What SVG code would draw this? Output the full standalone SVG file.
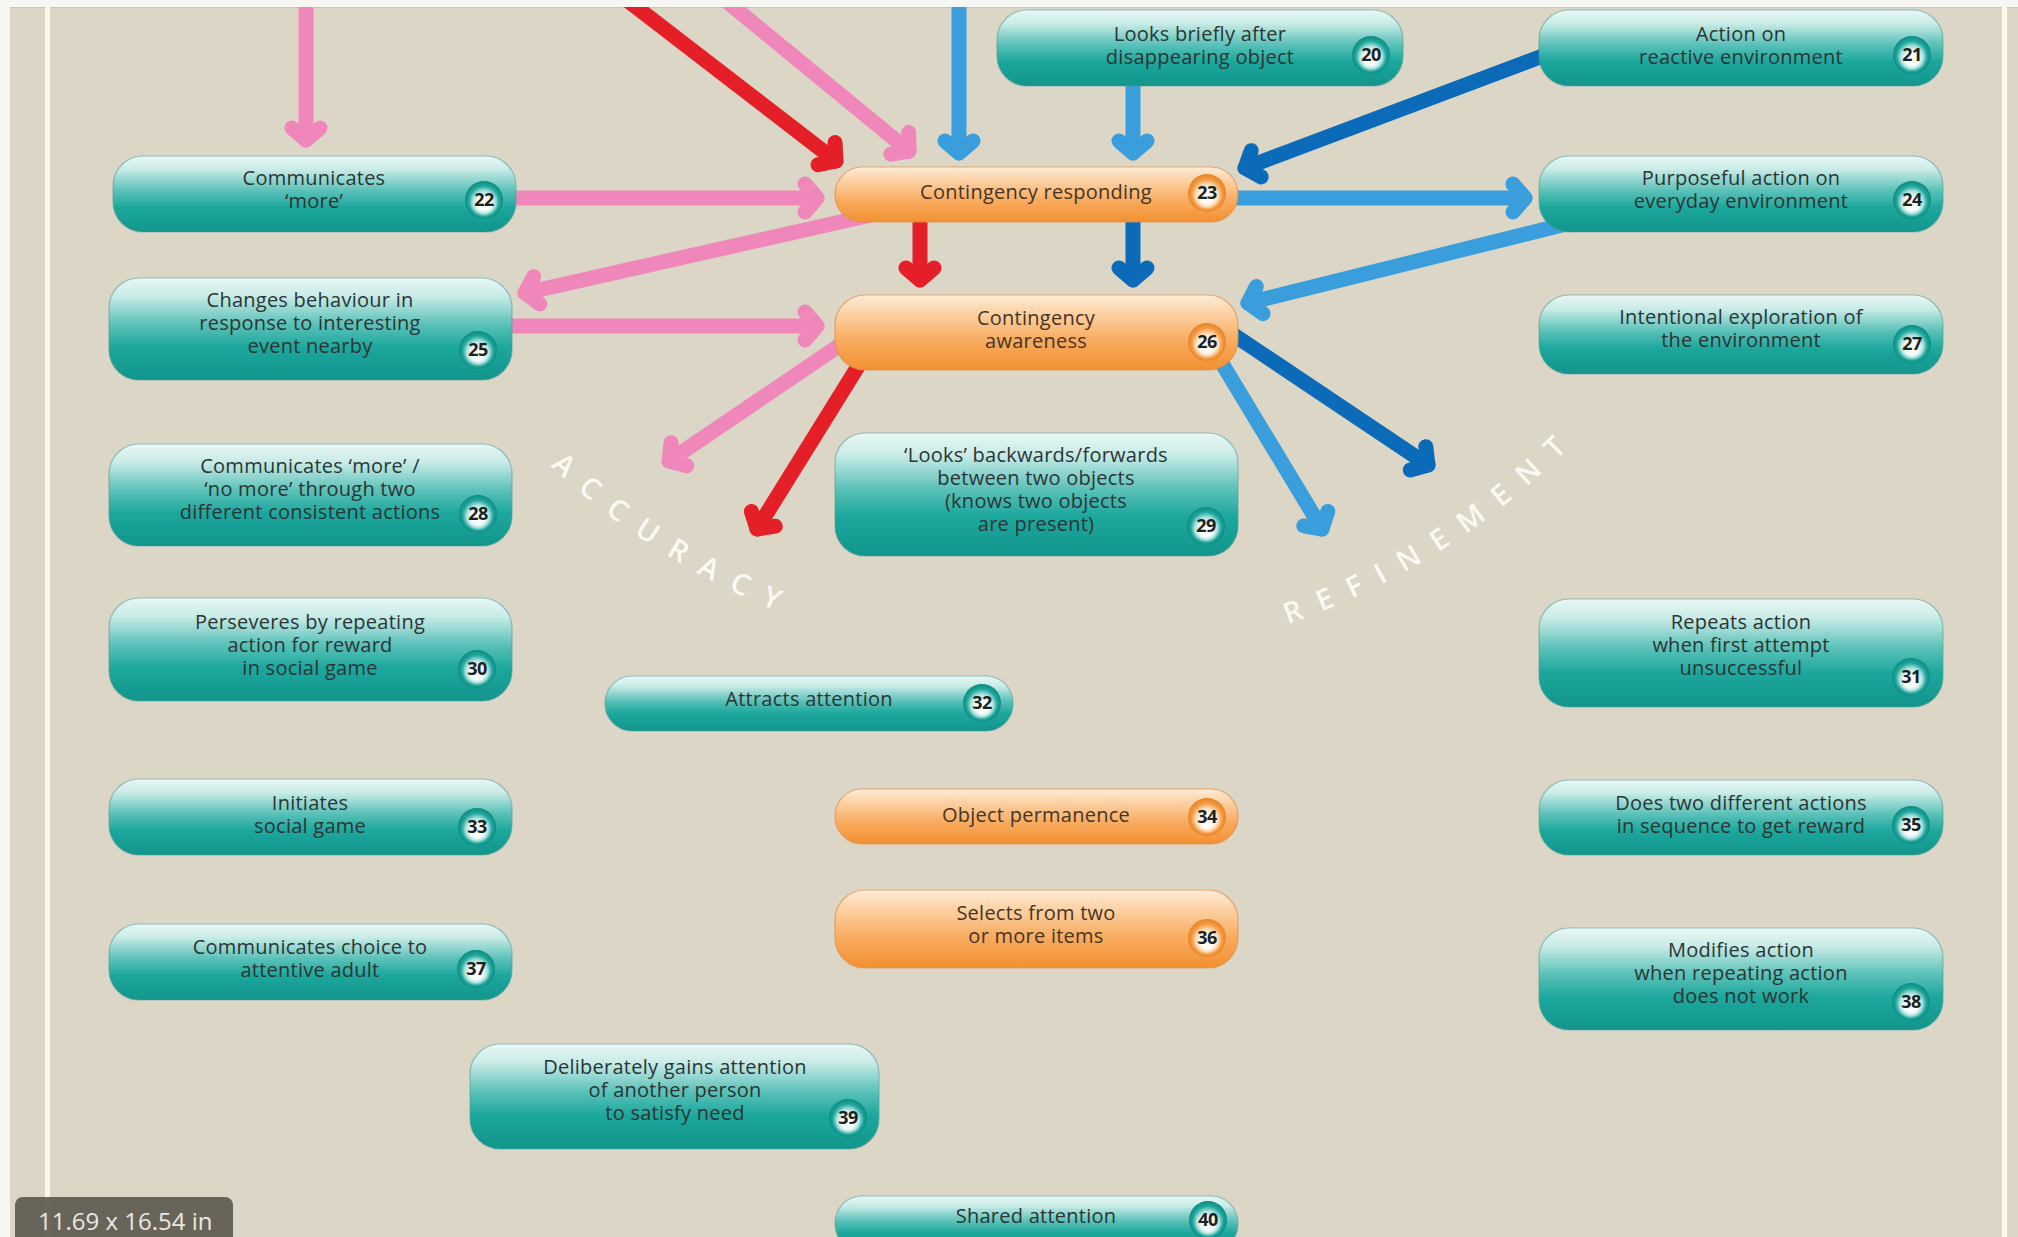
<svg xmlns="http://www.w3.org/2000/svg" width="2018" height="1237" viewBox="0 0 2018 1237">
<style>
  .lbl { font-family: "Open Sans", "Noto Sans", "Liberation Sans", sans-serif; font-size: 20px; letter-spacing: 0.25px; fill: #2b3534; text-anchor: middle; }
  .lbl.o { fill: #473424; }
  .num { font-family: "Open Sans", "Liberation Sans", sans-serif; font-weight: 700; font-size: 18px; fill: #1b2322; text-anchor: middle; letter-spacing: -0.5px; }
  .teal { fill: url(#gTeal); stroke: #4f9d96; stroke-opacity: 0.55; stroke-width: 1.2; }
  .orng { fill: url(#gOrange); stroke: #e58f45; stroke-opacity: 0.7; stroke-width: 1.2; }
  .bt { fill: url(#gBadgeT); }
  .bo { fill: url(#gBadgeO); }
  .arc { font-family: "Open Sans", "Noto Sans", sans-serif; font-size: 29px; font-weight: 600; fill: #fbf9f2; letter-spacing: 17px; text-anchor: middle; }
  .c { fill: none; stroke-width: 15; stroke-linecap: round; stroke-linejoin: round; }
  .pink { stroke: #f087ba; marker-end: url(#mPink); }
  .red { stroke: #e41f27; marker-end: url(#mRed); }
  .lblue { stroke: #3a9edd; marker-end: url(#mLblue); }
  .dblue { stroke: #0b6bb8; marker-end: url(#mDblue); }
</style>
<defs>
  <linearGradient id="gTeal" x1="0" y1="0" x2="0" y2="1">
    <stop offset="0" stop-color="#eaf7f5"/>
    <stop offset="0.18" stop-color="#c8ebe7"/>
    <stop offset="0.45" stop-color="#5cc2b9"/>
    <stop offset="0.68" stop-color="#1ca79d"/>
    <stop offset="1" stop-color="#12958c"/>
  </linearGradient>
  <linearGradient id="gOrange" x1="0" y1="0" x2="0" y2="1">
    <stop offset="0" stop-color="#fdecd8"/>
    <stop offset="0.22" stop-color="#fcd4a9"/>
    <stop offset="0.6" stop-color="#f8ac60"/>
    <stop offset="1" stop-color="#f29030"/>
  </linearGradient>
  <radialGradient id="gBadgeT" cx="50%" cy="50%" r="50%" fx="50%" fy="66%">
    <stop offset="0" stop-color="#ffffff"/>
    <stop offset="0.38" stop-color="#f1fbfa"/>
    <stop offset="0.6" stop-color="#a9e0db"/>
    <stop offset="0.8" stop-color="#1fa79d"/>
    <stop offset="1" stop-color="#0e8a82"/>
  </radialGradient>
  <radialGradient id="gBadgeO" cx="50%" cy="50%" r="50%" fx="50%" fy="66%">
    <stop offset="0" stop-color="#ffffff"/>
    <stop offset="0.38" stop-color="#fff8f0"/>
    <stop offset="0.6" stop-color="#fcd9b3"/>
    <stop offset="0.8" stop-color="#f49a40"/>
    <stop offset="1" stop-color="#e6842a"/>
  </radialGradient>
  <marker id="mPink" viewBox="-30 -30 40 60" markerWidth="40" markerHeight="60" refX="0" refY="0" orient="auto" markerUnits="userSpaceOnUse">
    <path d="M-12,-14 L0,0 L-12,14" fill="none" stroke="#f087ba" stroke-width="15" stroke-linecap="round" stroke-linejoin="round"/>
  </marker>
  <marker id="mRed" viewBox="-30 -30 40 60" markerWidth="40" markerHeight="60" refX="0" refY="0" orient="auto" markerUnits="userSpaceOnUse">
    <path d="M-12,-14 L0,0 L-12,14" fill="none" stroke="#e41f27" stroke-width="15" stroke-linecap="round" stroke-linejoin="round"/>
  </marker>
  <marker id="mLblue" viewBox="-30 -30 40 60" markerWidth="40" markerHeight="60" refX="0" refY="0" orient="auto" markerUnits="userSpaceOnUse">
    <path d="M-12,-14 L0,0 L-12,14" fill="none" stroke="#3a9edd" stroke-width="15" stroke-linecap="round" stroke-linejoin="round"/>
  </marker>
  <marker id="mDblue" viewBox="-30 -30 40 60" markerWidth="40" markerHeight="60" refX="0" refY="0" orient="auto" markerUnits="userSpaceOnUse">
    <path d="M-12,-14 L0,0 L-12,14" fill="none" stroke="#0b6bb8" stroke-width="15" stroke-linecap="round" stroke-linejoin="round"/>
  </marker>
  <path id="arcAccuracy" d="M425.1,310.5 A729,729 0 0 0 986.5,661.2"/>
  <path id="arcRefinement" d="M1113.5,661.2 A729,729 0 0 0 1685.1,292.9"/>
</defs>

<!-- page background -->
<rect x="0" y="0" width="2018" height="1237" fill="#f6f6f3"/>
<rect x="10" y="7" width="2008" height="1230" fill="#dcd6c7"/>
<line x1="10" y1="7.5" x2="2018" y2="7.5" stroke="#c9c6bc" stroke-width="1"/>
<rect x="45" y="7" width="5" height="1230" fill="#fbf7ec"/>
<rect x="2002" y="7" width="5" height="1230" fill="#fbf7ec"/>

<!-- curved headings -->
<text class="arc"><textPath href="#arcAccuracy" startOffset="50%">ACCURACY</textPath></text>
<text class="arc"><textPath href="#arcRefinement" startOffset="50%">REFINEMENT</textPath></text>

<!-- connectors -->
<g id="connectors">
  <path class="c pink" d="M306,0 L306,140"/>
  <path class="c red" d="M627,0 L836,161"/>
  <path class="c pink" d="M725,0 L909,151"/>
  <path class="c lblue" d="M959,0 L959,153"/>
  <path class="c lblue" d="M1133,75 L1133,153"/>
  <path class="c dblue" d="M1564,48 L1245,168"/>
  <path class="c lblue" d="M1215,198 L1525,198"/>
  <path class="c red" d="M920,205 L920,280"/>
  <path class="c dblue" d="M1133,205 L1133,280"/>
  <path class="c lblue" d="M1574,222 L1248,303"/>
  <path class="c pink" d="M880,213 L525,293"/>
  <path class="c pink" d="M505,198 L817,198"/>
  <path class="c pink" d="M495,326 L817,326"/>
  <path class="c pink" d="M846,341 L669,461"/>
  <path class="c red" d="M862,360 L757,529"/>
  <path class="c lblue" d="M1217,355 L1322,529"/>
  <path class="c dblue" d="M1225,329 L1428,465"/>
</g>
<!-- top edge of the sheet sits over the incoming lines -->
<rect x="0" y="0" width="2018" height="7" fill="#f6f6f3"/>

<!-- nodes -->
<g id="n20">
  <rect class="teal" x="997" y="10" width="406" height="76" rx="30"/>
  <text class="lbl"><tspan x="1200" y="41">Looks briefly after</tspan><tspan x="1200" y="64">disappearing object</tspan></text>
  <circle class="bt" cx="1371" cy="55" r="19"/><text class="num" x="1371" y="61">20</text>
</g>
<g id="n21">
  <rect class="teal" x="1539" y="10" width="404" height="76" rx="30"/>
  <text class="lbl"><tspan x="1741" y="41">Action on</tspan><tspan x="1741" y="64">reactive environment</tspan></text>
  <circle class="bt" cx="1912" cy="55" r="19"/><text class="num" x="1912" y="61">21</text>
</g>
<g id="n22">
  <rect class="teal" x="113" y="156" width="403" height="76" rx="30"/>
  <text class="lbl"><tspan x="314" y="185">Communicates</tspan><tspan x="314" y="208">‘more’</tspan></text>
  <circle class="bt" cx="484" cy="200" r="19"/><text class="num" x="484" y="206">22</text>
</g>
<g id="n23">
  <rect class="orng" x="835" y="167" width="403" height="55" rx="27"/>
  <text class="lbl o" x="1036" y="199">Contingency responding</text>
  <circle class="bo" cx="1207" cy="193" r="19"/><text class="num" x="1207" y="199">23</text>
</g>
<g id="n24">
  <rect class="teal" x="1539" y="156" width="404" height="76" rx="30"/>
  <text class="lbl"><tspan x="1741" y="185">Purposeful action on</tspan><tspan x="1741" y="208">everyday environment</tspan></text>
  <circle class="bt" cx="1912" cy="200" r="19"/><text class="num" x="1912" y="206">24</text>
</g>
<g id="n25">
  <rect class="teal" x="109" y="278" width="403" height="102" rx="30"/>
  <text class="lbl"><tspan x="310" y="307">Changes behaviour in</tspan><tspan x="310" y="330">response to interesting</tspan><tspan x="310" y="353">event nearby</tspan></text>
  <circle class="bt" cx="478" cy="350" r="19"/><text class="num" x="478" y="356">25</text>
</g>
<g id="n26">
  <rect class="orng" x="835" y="295" width="403" height="75" rx="30"/>
  <text class="lbl o"><tspan x="1036" y="325">Contingency</tspan><tspan x="1036" y="348">awareness</tspan></text>
  <circle class="bo" cx="1207" cy="342" r="19"/><text class="num" x="1207" y="348">26</text>
</g>
<g id="n27">
  <rect class="teal" x="1539" y="295" width="404" height="79" rx="30"/>
  <text class="lbl"><tspan x="1741" y="324">Intentional exploration of</tspan><tspan x="1741" y="347">the environment</tspan></text>
  <circle class="bt" cx="1912" cy="344" r="19"/><text class="num" x="1912" y="350">27</text>
</g>
<g id="n28">
  <rect class="teal" x="109" y="444" width="403" height="102" rx="30"/>
  <text class="lbl"><tspan x="310" y="473">Communicates ‘more’ /</tspan><tspan x="310" y="496">‘no more’ through two</tspan><tspan x="310" y="519">different consistent actions</tspan></text>
  <circle class="bt" cx="478" cy="514" r="19"/><text class="num" x="478" y="520">28</text>
</g>
<g id="n29">
  <rect class="teal" x="835" y="433" width="403" height="123" rx="30"/>
  <text class="lbl"><tspan x="1036" y="462">‘Looks’ backwards/forwards</tspan><tspan x="1036" y="485">between two objects</tspan><tspan x="1036" y="508">(knows two objects</tspan><tspan x="1036" y="531">are present)</tspan></text>
  <circle class="bt" cx="1206" cy="526" r="19"/><text class="num" x="1206" y="532">29</text>
</g>
<g id="n30">
  <rect class="teal" x="109" y="598" width="403" height="103" rx="30"/>
  <text class="lbl"><tspan x="310" y="629">Perseveres by repeating</tspan><tspan x="310" y="652">action for reward</tspan><tspan x="310" y="675">in social game</tspan></text>
  <circle class="bt" cx="477" cy="669" r="19"/><text class="num" x="477" y="675">30</text>
</g>
<g id="n31">
  <rect class="teal" x="1539" y="599" width="404" height="108" rx="30"/>
  <text class="lbl"><tspan x="1741" y="629">Repeats action</tspan><tspan x="1741" y="652">when first attempt</tspan><tspan x="1741" y="675">unsuccessful</tspan></text>
  <circle class="bt" cx="1911" cy="677" r="19"/><text class="num" x="1911" y="683">31</text>
</g>
<g id="n32">
  <rect class="teal" x="605" y="676" width="408" height="55" rx="27"/>
  <text class="lbl" x="809" y="706">Attracts attention</text>
  <circle class="bt" cx="982" cy="703" r="19"/><text class="num" x="982" y="709">32</text>
</g>
<g id="n33">
  <rect class="teal" x="109" y="779" width="403" height="76" rx="30"/>
  <text class="lbl"><tspan x="310" y="810">Initiates</tspan><tspan x="310" y="833">social game</tspan></text>
  <circle class="bt" cx="477" cy="827" r="19"/><text class="num" x="477" y="833">33</text>
</g>
<g id="n34">
  <rect class="orng" x="835" y="789" width="403" height="55" rx="27"/>
  <text class="lbl o" x="1036" y="822">Object permanence</text>
  <circle class="bo" cx="1207" cy="817" r="19"/><text class="num" x="1207" y="823">34</text>
</g>
<g id="n35">
  <rect class="teal" x="1539" y="780" width="404" height="75" rx="30"/>
  <text class="lbl"><tspan x="1741" y="810">Does two different actions</tspan><tspan x="1741" y="833">in sequence to get reward</tspan></text>
  <circle class="bt" cx="1911" cy="825" r="19"/><text class="num" x="1911" y="831">35</text>
</g>
<g id="n36">
  <rect class="orng" x="835" y="890" width="403" height="78" rx="30"/>
  <text class="lbl o"><tspan x="1036" y="920">Selects from two</tspan><tspan x="1036" y="943">or more items</tspan></text>
  <circle class="bo" cx="1207" cy="938" r="19"/><text class="num" x="1207" y="944">36</text>
</g>
<g id="n37">
  <rect class="teal" x="109" y="924" width="403" height="76" rx="30"/>
  <text class="lbl"><tspan x="310" y="954">Communicates choice to</tspan><tspan x="310" y="977">attentive adult</tspan></text>
  <circle class="bt" cx="476" cy="969" r="19"/><text class="num" x="476" y="975">37</text>
</g>
<g id="n38">
  <rect class="teal" x="1539" y="928" width="404" height="102" rx="30"/>
  <text class="lbl"><tspan x="1741" y="957">Modifies action</tspan><tspan x="1741" y="980">when repeating action</tspan><tspan x="1741" y="1003">does not work</tspan></text>
  <circle class="bt" cx="1911" cy="1002" r="19"/><text class="num" x="1911" y="1008">38</text>
</g>
<g id="n39">
  <rect class="teal" x="470" y="1044" width="409" height="105" rx="30"/>
  <text class="lbl"><tspan x="675" y="1074">Deliberately gains attention</tspan><tspan x="675" y="1097">of another person</tspan><tspan x="675" y="1120">to satisfy need</tspan></text>
  <circle class="bt" cx="848" cy="1118" r="19"/><text class="num" x="848" y="1124">39</text>
</g>
<g id="n40">
  <rect class="teal" x="835" y="1196" width="403" height="55" rx="27"/>
  <text class="lbl" x="1036" y="1223">Shared attention</text>
  <circle class="bt" cx="1208" cy="1220" r="19"/><text class="num" x="1208" y="1226">40</text>
</g>

<!-- page size tag -->
<g id="sizeTag">
  <rect x="15" y="1197" width="218" height="56" rx="8" fill="#5e5a50" fill-opacity="0.92"/>
  <text x="38" y="1230" font-family="Open Sans, Noto Sans, sans-serif" font-size="24" fill="#e9e7e1">11.69 x 16.54 in</text>
</g>
</svg>
